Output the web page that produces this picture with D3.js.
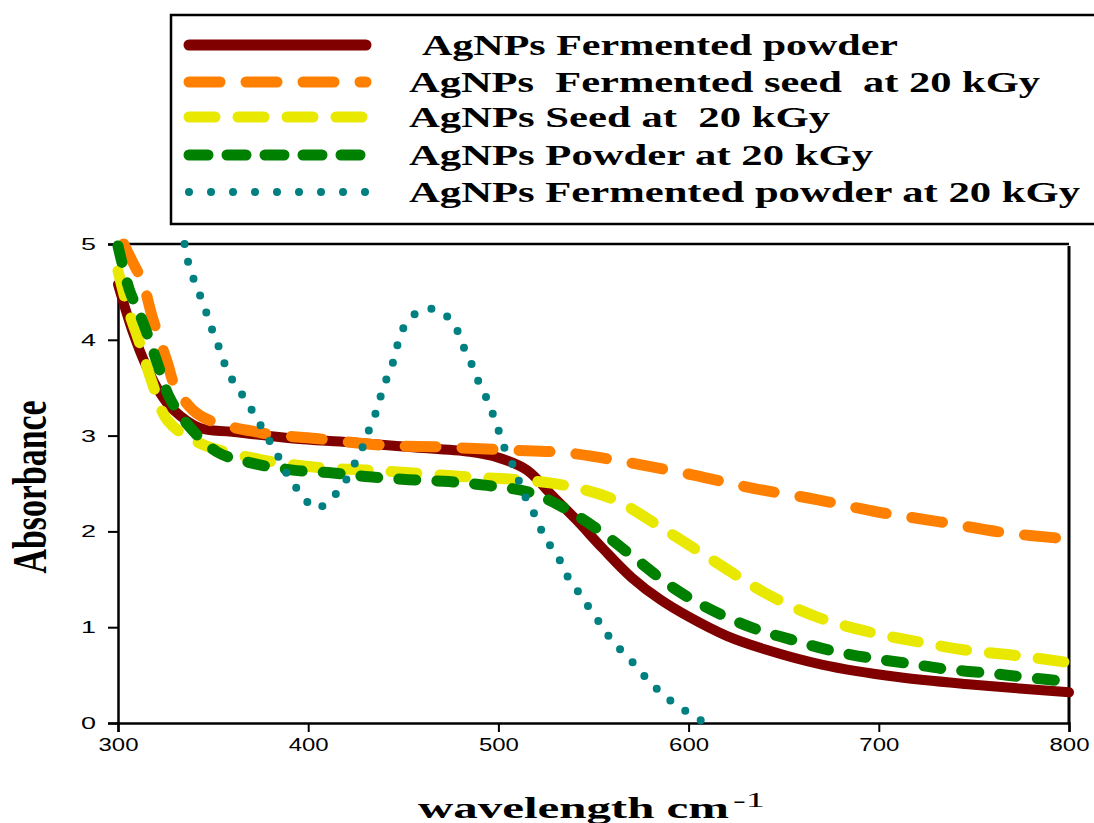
<!DOCTYPE html>
<html>
<head>
<meta charset="utf-8">
<script src="https://cdn.jsdelivr.net/npm/d3@7"></script>
<style>
  body { margin: 0; background: #fff; }
  svg { display: block; }
</style>
</head>
<body>
<div id="chart"></div>
<script>
// Chart size
var width = 1094;
var height = 823;

// Tick values
var wavelengthTicks = [300, 400, 500, 600, 700, 800];
var absorbanceTicks = [0, 1, 2, 3, 4, 5];

// Series names (legend order)
var seriesNames = [
  "AgNPs Fermented powder",
  "AgNPs  Fermented seed  at 20 kGy",
  "AgNPs Seed at  20 kGy",
  "AgNPs Powder at 20 kGy",
  "AgNPs Fermented powder at 20 kGy"
];

// Values: [wavelength, absorbance]
var fermentedPowder = [
  [300, 4.58], [308, 4.07], [315, 3.72], [322, 3.45], [329, 3.27], [343, 3.08],
  [360, 3.04], [392, 2.97], [422, 2.93], [453, 2.88], [485, 2.83], [500, 2.77],
  [515, 2.64], [528, 2.38], [541, 2.12], [555, 1.82], [570, 1.52], [585, 1.29],
  [600, 1.11], [620, 0.91], [640, 0.77], [670, 0.61], [710, 0.48], [750, 0.4],
  [800, 0.32]
];
var fermentedSeed20 = [
  [303, 5.0], [308, 4.8], [313, 4.6], [318, 4.24], [326, 3.76], [330, 3.52],
  [343, 3.21], [375, 3.03], [404, 2.97], [439, 2.9], [471, 2.88], [504, 2.85],
  [536, 2.82], [568, 2.72], [602, 2.59], [634, 2.45], [668, 2.33], [700, 2.2],
  [732, 2.1], [765, 1.99], [800, 1.92]
];
var seed20 = [
  [300, 4.72], [305, 4.34], [312, 3.93], [318, 3.55], [326, 3.16], [343, 2.92],
  [375, 2.75], [404, 2.67], [431, 2.64], [455, 2.61], [483, 2.57], [510, 2.54],
  [535, 2.48], [561, 2.33], [588, 2.01], [615, 1.67], [640, 1.36], [667, 1.11],
  [695, 0.95], [720, 0.85], [746, 0.76], [774, 0.7], [800, 0.63]
];
var powder20 = [
  [300, 4.98], [306, 4.52], [312, 4.24], [317, 3.97], [322, 3.68], [327, 3.4],
  [336, 3.13], [352, 2.83], [371, 2.71], [392, 2.64], [413, 2.61], [432, 2.57],
  [453, 2.54], [474, 2.52], [494, 2.48], [516, 2.41], [535, 2.24], [555, 1.98],
  [573, 1.7], [592, 1.41], [612, 1.18], [634, 0.99], [654, 0.87], [674, 0.76],
  [695, 0.68], [716, 0.62], [736, 0.56], [758, 0.52], [776, 0.48], [800, 0.43]
];
var fermentedPowder20 = [
  [335, 5.0], [337, 4.8], [340, 4.62], [343, 4.47], [346, 4.31], [349, 4.13],
  [352, 3.98], [355, 3.81], [358, 3.65], [363, 3.5], [368, 3.34], [373, 3.18],
  [377, 3.03], [382, 2.87], [386, 2.71], [390, 2.56], [396, 2.4], [404, 2.24],
  [414, 2.38], [420, 2.54], [424, 2.69], [428, 2.85], [431, 3.01], [434, 3.16],
  [437, 3.32], [439, 3.48], [442, 3.63], [445, 3.79], [447, 3.95], [450, 4.12],
  [457, 4.28], [467, 4.32], [476, 4.18], [480, 4.02], [483, 3.86], [487, 3.7],
  [490, 3.54], [494, 3.38], [497, 3.23], [500, 3.06], [503, 2.88], [507, 2.72],
  [510, 2.57], [513, 2.41], [517, 2.25], [521, 2.1], [524, 1.94], [530, 1.78],
  [534, 1.63], [538, 1.47], [544, 1.32], [549, 1.16], [555, 1.0], [560, 0.85],
  [568, 0.69], [575, 0.53], [582, 0.38], [592, 0.21], [607, 0.02]
];

// Line styles
var styles = [
  {color: "#800000", width: 10, dash: null},
  {color: "#ff8000", width: 11, dash: "31,26"},
  {color: "#e8e800", width: 11, dash: "26,23"},
  {color: "#008000", width: 11, dash: "17,21"},
  {color: "#008080", width: 8, dash: "0,18"}
];
var allSeries = [fermentedPowder, fermentedSeed20, seed20, powder20, fermentedPowder20];

var svg = d3.select("#chart")
  .append("svg")
  .attr("width", width)
  .attr("height", height);

// Scales
var x = d3.scaleLinear().domain([300, 800]).range([118, 1069]);
var y = d3.scaleLinear().domain([0, 5]).range([723, 244]);

// Plot frame (top and right)
svg.append("line")
  .attr("x1", x(300)).attr("x2", x(800))
  .attr("y1", y(5)).attr("y2", y(5))
  .style("stroke", "black").style("stroke-width", 2.5);
svg.append("line")
  .attr("x1", x(800)).attr("x2", x(800))
  .attr("y1", y(5) + 2).attr("y2", y(0))
  .style("stroke", "black").style("stroke-width", 3);

// Axes
var xAxis = svg.append("g")
  .attr("transform", "translate(0," + y(0) + ")")
  .call(d3.axisBottom(x).tickValues(wavelengthTicks).tickSize(9).tickPadding(6).tickFormat(d3.format("d")));
var yAxis = svg.append("g")
  .attr("transform", "translate(" + x(300) + ",0)")
  .call(d3.axisLeft(y).tickValues(absorbanceTicks).tickSize(10).tickPadding(12).tickFormat(d3.format("d")));

[xAxis, yAxis].forEach(function(a){
  a.select(".domain").style("stroke", "black").style("stroke-width", 2.5);
  a.selectAll(".tick line").style("stroke", "black").style("stroke-width", 2);
  a.selectAll(".tick text")
    .style("font-family", "Liberation Sans, Arial, sans-serif")
    .style("fill", "black");
});
xAxis.selectAll(".tick text")
  .style("font-size", "18px")
  .attr("textLength", 40)
  .attr("lengthAdjust", "spacingAndGlyphs");
yAxis.selectAll(".tick text")
  .style("font-size", "17px")
  .attr("textLength", 15)
  .attr("lengthAdjust", "spacingAndGlyphs");

// Series lines
var line = d3.line()
  .x(function(d){ return x(d[0]); })
  .y(function(d){ return y(d[1]); })
  .curve(d3.curveCatmullRom.alpha(0.5));

for(var i = 0; i < allSeries.length; i++){
  var path = svg.append("path")
    .datum(allSeries[i])
    .attr("d", line)
    .style("fill", "none")
    .style("stroke", styles[i].color)
    .style("stroke-width", styles[i].width)
    .style("stroke-linecap", "round")
    .style("stroke-linejoin", "round");
  if(styles[i].dash){
    path.style("stroke-dasharray", styles[i].dash);
  }
}

// Axis titles
svg.append("text")
  .attr("transform", "translate(46,487) scale(1.45,1) rotate(-90)")
  .attr("text-anchor", "middle")
  .attr("textLength", 173)
  .attr("lengthAdjust", "spacingAndGlyphs")
  .style("font-family", "Liberation Serif, Times New Roman, serif")
  .style("font-weight", "bold")
  .style("font-size", "33px")
  .text("Absorbance");

svg.append("text")
  .attr("x", 418)
  .attr("y", 818)
  .attr("textLength", 311)
  .attr("lengthAdjust", "spacingAndGlyphs")
  .style("font-family", "Liberation Serif, Times New Roman, serif")
  .style("font-weight", "bold")
  .style("font-size", "30px")
  .text("wavelength cm");
svg.append("text")
  .attr("x", 733)
  .attr("y", 807)
  .attr("textLength", 32)
  .attr("lengthAdjust", "spacingAndGlyphs")
  .style("font-family", "Liberation Serif, Times New Roman, serif")
  .style("font-size", "20px")
  .text("-1");

// Legend
var legend = svg.append("g");
legend.append("rect")
  .attr("x", 171)
  .attr("y", 15)
  .attr("width", 960)
  .attr("height", 209)
  .style("fill", "white")
  .style("stroke", "black")
  .style("stroke-width", 2.5);

var legendRowY = [45, 82, 117, 155, 192];
var legendTextX = [422, 409, 409, 409, 409];
var legendTextLength = [476, 631, 421, 464, 671];
var legendDash = [null, "31,26", "26,23", "19,19", "0,22"];

for(var i = 0; i < seriesNames.length; i++){
  var l = legend.append("line")
    .attr("x1", 189).attr("x2", 366)
    .attr("y1", legendRowY[i]).attr("y2", legendRowY[i])
    .style("stroke", styles[i].color)
    .style("stroke-width", i == 4 ? 8 : 11)
    .style("stroke-linecap", "round");
  if(legendDash[i]){
    l.style("stroke-dasharray", legendDash[i]);
  }
  legend.append("text")
    .attr("x", legendTextX[i])
    .attr("y", legendRowY[i] + 10)
    .attr("textLength", legendTextLength[i])
    .attr("lengthAdjust", "spacingAndGlyphs")
    .style("white-space", "pre")
    .style("font-family", "Liberation Serif, Times New Roman, serif")
    .style("font-weight", "bold")
    .style("font-size", "30px")
    .text(seriesNames[i]);
}
</script>
</body>
</html>
